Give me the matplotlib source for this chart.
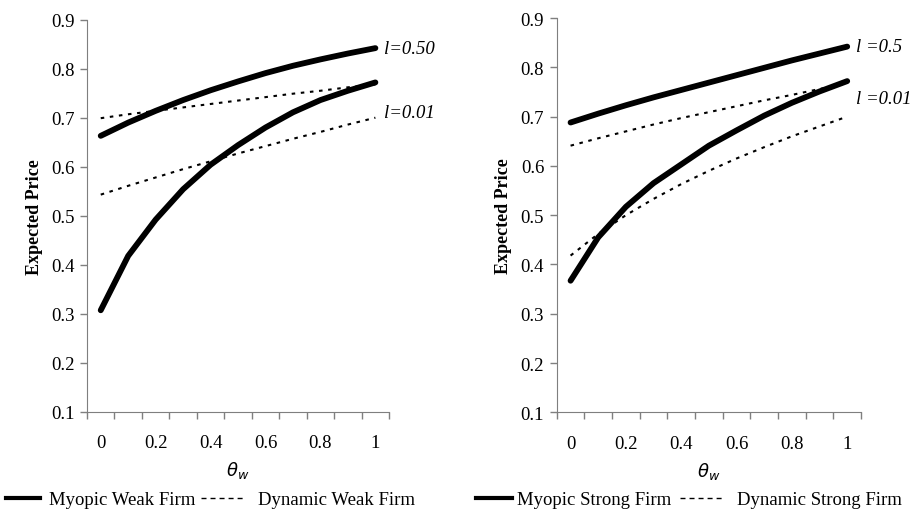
import matplotlib.pyplot as plt
from matplotlib.lines import Line2D
import numpy as np

plt.rcParams['font.family'] = ['Liberation Serif', 'DejaVu Serif']
plt.rcParams['mathtext.fontset'] = 'dejavusans'

# theta_w grid (category axis 0, 0.1, ..., 1)
theta = [0.0, 0.1, 0.2, 0.3, 0.4, 0.5, 0.6, 0.7, 0.8, 0.9, 1.0]
tick_labels = ['0', '0.2', '0.4', '0.6', '0.8', '1']

# weak firm
myopic_weak_l50 = [0.663, 0.690, 0.714, 0.736, 0.756, 0.774, 0.791, 0.806, 0.819, 0.831, 0.842]
myopic_weak_l01 = [0.307, 0.418, 0.492, 0.554, 0.604, 0.644, 0.680, 0.711, 0.736, 0.755, 0.772]
dynamic_weak_l50 = [0.699, 0.707, 0.714, 0.721, 0.728, 0.735, 0.742, 0.749, 0.755, 0.762, 0.768]
dynamic_weak_l01 = [0.543, 0.561, 0.578, 0.595, 0.611, 0.627, 0.642, 0.657, 0.671, 0.686, 0.700]

# strong firm
myopic_strong_l50 = [0.688, 0.706, 0.723, 0.739, 0.754, 0.769, 0.784, 0.799, 0.814, 0.828, 0.842]
myopic_strong_l01 = [0.367, 0.455, 0.517, 0.565, 0.603, 0.641, 0.672, 0.702, 0.728, 0.751, 0.772]
dynamic_strong_l50 = [0.641, 0.656, 0.670, 0.684, 0.697, 0.709, 0.721, 0.733, 0.744, 0.756, 0.767]
dynamic_strong_l01 = [0.418, 0.462, 0.500, 0.533, 0.563, 0.590, 0.615, 0.638, 0.660, 0.680, 0.700]

SOLID = dict(color='black', lw=4.2, solid_capstyle='round', solid_joinstyle='round')
DOTS = dict(color='black', lw=1.5, linestyle=(0, (1.7, 2.7)))
AXCOL = '#7f7f7f'
FS = 13.5
W, H = 910, 510

fig = plt.figure(figsize=(9.1, 5.1), dpi=100)
ax1 = fig.add_axes([0.0956, 0.1908, 0.332, 0.7686])
ax2 = fig.add_axes([0.6118, 0.1896, 0.3344, 0.7731])


def style(ax):
    ax.set_xlim(-0.05, 1.05)
    ax.set_ylim(0.1, 0.9)
    ax.set_yticks(np.arange(0.1, 0.91, 0.1))
    ax.set_yticklabels([f'{v:.1f}' for v in np.arange(0.1, 0.91, 0.1)], fontsize=FS)
    # tick marks between categories, labels on every other category
    ax.set_xticks(np.arange(-0.05, 1.06, 0.1))
    ax.set_xticklabels([])
    ax.set_xticks(np.arange(0, 1.01, 0.2), minor=True)
    ax.set_xticklabels(tick_labels, minor=True, fontsize=FS)
    ax.tick_params(axis='x', which='minor', length=0, pad=16)
    ax.tick_params(axis='x', which='major', length=5, color=AXCOL, width=1)
    ax.tick_params(axis='y', length=5, color=AXCOL, width=1, pad=4)
    for sp in ['top', 'right']:
        ax.spines[sp].set_visible(False)
    for sp in ['left', 'bottom']:
        ax.spines[sp].set_color(AXCOL)
    ax.set_ylabel('Expected Price', fontsize=13, fontweight='bold', labelpad=6)
    ax.set_xlabel(r'$\theta_w$', fontsize=13, labelpad=6)


# ---- weak firm ----
ax1.plot(theta, dynamic_weak_l50, **DOTS)
ax1.plot(theta, dynamic_weak_l01, **DOTS)
ax1.plot(theta, myopic_weak_l50, **SOLID)
ax1.plot(theta, myopic_weak_l01, **SOLID)
ax1.annotate('l=0.50', (theta[-1], myopic_weak_l50[-1]), xytext=(6, 0),
             textcoords='offset points', va='center', fontstyle='italic', fontsize=FS)
ax1.annotate('l=0.01', (theta[-1], 0.711), xytext=(6, 0),
             textcoords='offset points', va='center', fontstyle='italic', fontsize=FS)
style(ax1)

# ---- strong firm ----
ax2.plot(theta, dynamic_strong_l50, **DOTS)
ax2.plot(theta, dynamic_strong_l01, **DOTS)
ax2.plot(theta, myopic_strong_l50, **SOLID)
ax2.plot(theta, myopic_strong_l01, **SOLID)
ax2.annotate('l =0.5', (theta[-1], myopic_strong_l50[-1]), xytext=(6, 0),
             textcoords='offset points', va='center', fontstyle='italic', fontsize=FS)
ax2.annotate('l =0.01', (theta[-1], 0.736), xytext=(6, 0),
             textcoords='offset points', va='center', fontstyle='italic', fontsize=FS)
style(ax2)


# legend rows under each panel, laid out in pixel positions
def legend_row(x_solid, x_txt1, x_dash, x_txt2, lab1, lab2, y=499, base=505):
    yf = 1 - y / H
    fig.add_artist(Line2D([x_solid[0] / W, x_solid[1] / W], [yf, yf],
                          color='black', lw=3.0, transform=fig.transFigure))
    fig.add_artist(Line2D([x_dash[0] / W, x_dash[1] / W], [yf, yf],
                          color='black', lw=1.0, linestyle=(0, (3.6, 2.9)),
                          transform=fig.transFigure))
    fig.text(x_txt1 / W, 1 - base / H, lab1, fontsize=FS, va='baseline')
    fig.text(x_txt2 / W, 1 - base / H, lab2, fontsize=FS, va='baseline')


legend_row((6, 40), 49, (201, 245), 258, 'Myopic Weak Firm', 'Dynamic Weak Firm')
legend_row((476, 512), 517, (680, 723), 737, 'Myopic Strong Firm', 'Dynamic Strong Firm')

fig.savefig('out.png', dpi=100, facecolor='white')
